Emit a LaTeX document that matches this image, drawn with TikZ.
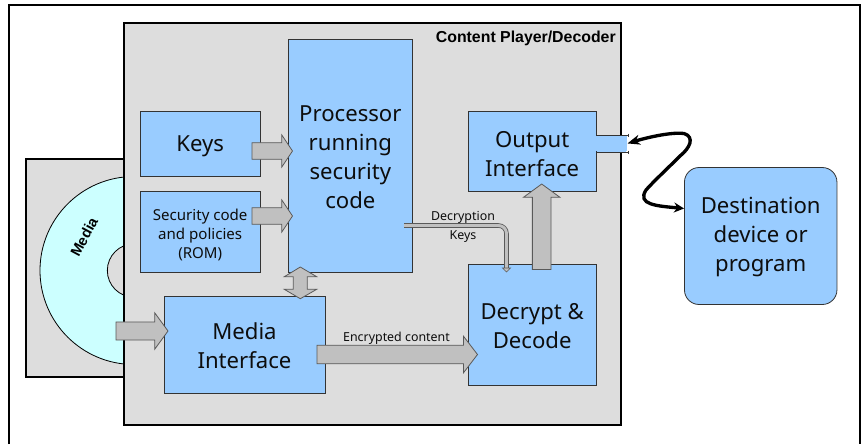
\documentclass[tikz,border=0pt]{standalone}
\usepackage{fontspec}
\setmainfont{Noto Sans}
\newfontfamily\arialb[BoldFont=Liberation Sans Bold]{Liberation Sans}
\usetikzlibrary{calc,arrows.meta,bending}
\definecolor{bluebox}{HTML}{99CCFF}
\definecolor{panel}{HTML}{DDDDDD}
\definecolor{arrowfill}{HTML}{C0C0C0}
\definecolor{discfill}{HTML}{CCFFFF}
\tikzset{
  x=0.75pt,y=-0.75pt,
  size/.style 2 args={minimum width=#1*0.75pt,minimum height=#2*0.75pt},
  bluenode/.style={draw=black!80,line width=0.6pt,fill=bluebox,inner sep=0pt,align=center,text=black!95},
  large/.style={font=\fontsize{16.6}{21.7}\selectfont},
  small/.style={font=\fontsize{11.3}{14.3}\selectfont},
  label/.style={inner sep=0pt,align=center,text=black!95,font=\fontsize{9.3}{14.5}\selectfont},
  blockarr/.style={draw=black!65,line width=0.6pt,fill=arrowfill,line join=miter},
}
\newcommand\low[2]{\raisebox{-#1}[\height][\depth]{\begin{tabular}{@{}c@{}}#2\end{tabular}}}
\newcommand\blockarrow[5]{%
  \coordinate (ba) at ($(#2)!#5!(#1)$);
  \draw[blockarr] ($(#1)!#3!90:(#2)$) -- ($(ba)!#3!90:(#2)$) -- ($(ba)!#4!90:(#2)$) -- (#2)
    -- ($(ba)!#4!-90:(#2)$) -- ($(ba)!#3!-90:(#2)$) -- ($(#1)!#3!-90:(#2)$) -- cycle;
}
\begin{document}
\begin{tikzpicture}
\useasboundingbox (0,0) rectangle (863,444);
\fill[white] (0,0) rectangle (863,444);
% outer frame
\draw[line width=1.5pt,line cap=butt] (9,444) -- (9,5) -- (860,5) -- (860,444);
% media sleeve
\node[draw=black,line width=1.1pt,fill=panel,size={98}{218},inner sep=0pt] (sleeve) at (75,268) {};
\coordinate (disccentre) at (134,270.5);
\draw[line width=0.6pt,fill=discfill] (disccentre) circle[radius=70.5pt];
\draw[line width=0.6pt,fill=panel] (disccentre) circle[radius=20pt];
\node[rotate=62,inner sep=0pt,font=\arialb\bfseries\fontsize{11}{13}\selectfont] (medialabel) at (84,237) {Media};
% player
\node[draw=black,line width=1.1pt,fill=panel,size={497}{402},inner sep=0pt] (player) at (372.5,224) {};
\node[inner sep=0pt,anchor=east,font=\arialb\bfseries\fontsize{11.9}{14}\selectfont] (playerlabel) at (616,38) {Content Player/Decoder};
% boxes
\node[bluenode,large,size={120.5}{65}] (keys) at (200.2,143.5) {\low{1.5pt}{Keys}};
\node[bluenode,small,size={120.5}{80.5}] (sec) at (200.2,231.7) {\low{3pt}{Security code\\and policies\\(ROM)}};
\node[bluenode,large,size={123.5}{233}] (proc) at (350.3,155.5) {\low{3pt}{Processor\\running\\security\\code}};
\node[bluenode,large,size={128.5}{121}] (dec) at (532.2,324.5) {\low{3pt}{Decrypt \&\\Decode}};
\node[bluenode,size={30.5}{17},draw=none] (port) at (611,143.5) {};
\node[bluenode,large,size={128.5}{80}] (out) at (532.2,151) {\low{3.7pt}{Output\\Interface}};
\fill[bluebox] (596,135.6) rectangle (626.5,151.4);
\draw[black!80,line width=0.6pt] (596.5,135) -- (628,135) (596.5,152) -- (628,152)
  (628,133.5) -- (628,136.5) (628,150.5) -- (628,153.5);
\node[bluenode,large,size={161}{97}] (mi) at (244.5,344.5) {\low{3pt}{Media\\Interface}};
\node[bluenode,large,size={152.5}{137},rounded corners=11pt] (dest) at (760.7,236) {\low{0.8pt}{Destination\\device or\\program}};
% block arrows
\coordinate (k1) at (252,151); \coordinate (k2) at (292.5,151);
\blockarrow{k1}{k2}{6.2pt}{12pt}{8pt}
\coordinate (s1) at (252,216); \coordinate (s2) at (292.5,216);
\blockarrow{s1}{s2}{6.2pt}{12pt}{8pt}
\coordinate (m1) at (116,331); \coordinate (m2) at (168,331);
\blockarrow{m1}{m2}{6.8pt}{13.7pt}{10pt}
\coordinate (e1) at (317,354.5); \coordinate (e2) at (477.5,354.5);
\blockarrow{e1}{e2}{7pt}{13.7pt}{10.5pt}
\coordinate (o1) at (541.7,269.5); \coordinate (o2) at (541.7,184);
\blockarrow{o1}{o2}{7pt}{13.7pt}{10pt}
% double-headed processor / media interface arrow
\coordinate (p1) at (300.3,267); \coordinate (p2) at (300.3,298.7);
\draw[blockarr] (p1) -- (316.7,276.7) -- (307.3,276.7) -- (307.3,289.3) -- (316.7,289.3) -- (p2)
  -- (284.3,289.3) -- (293.3,289.3) -- (293.3,276.7) -- (284.3,276.7) -- cycle;
% decryption keys
\coordinate (d1) at (404,225.5); \coordinate (d2) at (506.5,272);
\draw[draw=black!65,line width=3.4pt,line join=round,rounded corners=6pt] (d1) -- (506.5,225.5) -- (506.5,268);
\draw[draw=arrowfill,line width=2.2pt,line join=round,rounded corners=6pt] (d1) -- (506.5,225.5) -- (506.5,268);
\fill[arrowfill,draw=black!65,line width=0.5pt] (502.5,268) -- (510.5,268) -- (d2) -- cycle;
\node[label] (declabel) at (463,217.5) {Decryption};
\node[label] (keylabel) at (463,236.5) {Keys};
\node[label] (enclabel) at (396.5,338.5) {Encrypted content};
% link
\coordinate (pe) at (627.5,143.5);
\draw[black,line width=2.5pt,{Stealth[length=9.5pt,width=7.5pt,bend]}-{Stealth[length=7.5pt,width=7.5pt,bend]}]
  (pe) .. controls (650,136) and (674,132) .. (684,133.5)
  .. controls (695,137) and (690,148) .. (680,156)
  .. controls (668,168) and (653,182) .. (646,190)
  .. controls (636,206) and (660,206) .. (dest.west |- 0,208.5);
\end{tikzpicture}
\end{document}
